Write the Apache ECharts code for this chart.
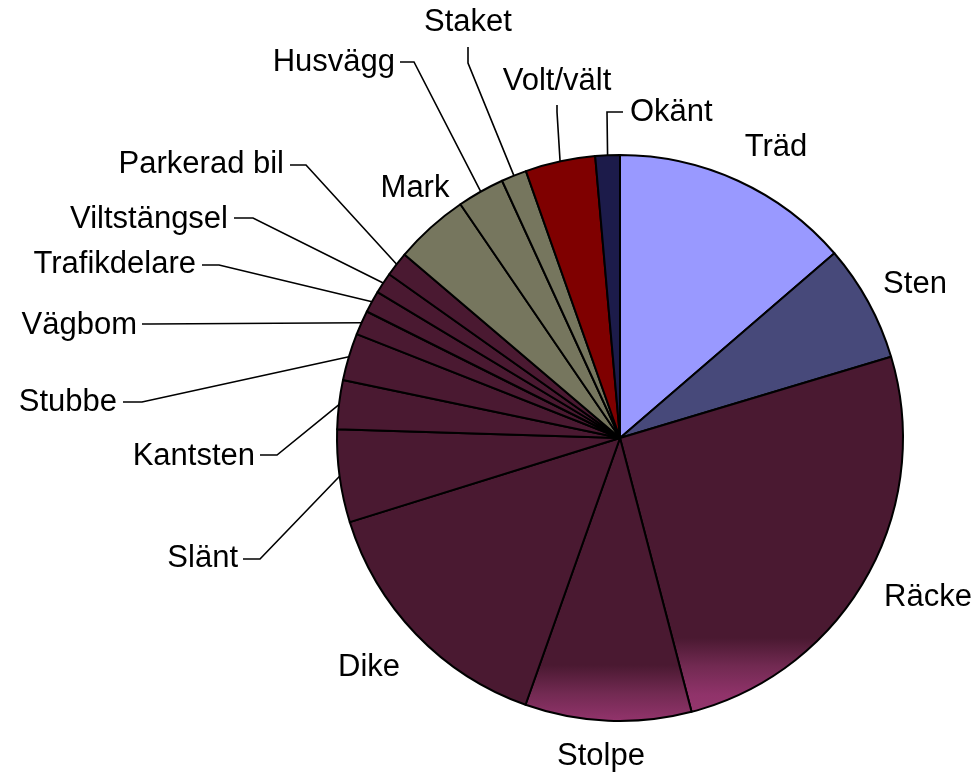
<!DOCTYPE html>
<html>
<head>
<meta charset="utf-8">
<title>Singelolyckor – påkörda objekt</title>
<script src="https://cdn.jsdelivr.net/npm/echarts@6/dist/echarts.min.js"></script>
<style>
  html, body { margin: 0; padding: 0; background: #ffffff; }
  #chart { width: 978px; height: 778px; }
</style>
</head>
<body>
<div id="chart"></div>
<script>
// Object types, clockwise from twelve o'clock
const categories = ['Träd', 'Sten', 'Räcke', 'Stolpe', 'Dike', 'Slänt', 'Kantsten', 'Stubbe',
  'Vägbom', 'Trafikdelare', 'Viltstängsel', 'Parkerad bil', 'Mark', 'Husvägg', 'Staket',
  'Volt/vält', 'Okänt'];
// Share of accidents per object type (%)
const shares = [13.7, 6.7, 25.6, 9.5, 14.8, 5.3, 2.8, 2.7, 1.4, 1.25, 1.2, 1.4, 4.25, 2.7, 1.45, 4.0, 1.4];

// ---- styling ----
const MAROON = '#4a1931';
const OLIVE = '#76765e';
const fadeToPink = (darkEnd, midAt, pinkStart) => ({
  type: 'linear', x: 0, y: 0, x2: 0, y2: 1,
  colorStops: [
    { offset: 0, color: MAROON },
    { offset: darkEnd, color: MAROON },
    { offset: midAt, color: '#722a52' },
    { offset: pinkStart, color: '#90336a' },
    { offset: 1, color: '#95366d' }
  ]
});
const sliceFill = {
  'Träd': '#9999ff',
  'Sten': '#47497a',
  'Räcke': fadeToPink(0.79, 0.87, 0.95),
  'Stolpe': fadeToPink(0.8, 0.9, 0.99),
  'Mark': OLIVE, 'Husvägg': OLIVE, 'Staket': OLIVE,
  'Volt/vält': '#7f0000',
  'Okänt': '#1c1b4a'
};

// Where each label sits; "line" holds the leader's bend and end point
const labelSpots = {
  'Träd':         { x: 776, y: 147, align: 'center' },
  'Sten':         { x: 915, y: 284, align: 'center' },
  'Räcke':        { x: 928, y: 597, align: 'center' },
  'Stolpe':       { x: 601, y: 756, align: 'center' },
  'Dike':         { x: 369, y: 667, align: 'center' },
  'Slänt':        { x: 238, y: 558, align: 'right', line: [[260, 559], [243, 559]] },
  'Kantsten':     { x: 255, y: 456, align: 'right', line: [[277, 455], [260, 455]] },
  'Stubbe':       { x: 117, y: 402, align: 'right', line: [[142, 402], [123, 402]] },
  'Vägbom':       { x: 137, y: 325, align: 'right', line: [[150, 324], [142, 324]] },
  'Trafikdelare': { x: 196, y: 264, align: 'right', line: [[219, 265], [202, 265]] },
  'Viltstängsel': { x: 228, y: 219, align: 'right', line: [[253, 218], [234, 218]] },
  'Parkerad bil': { x: 284, y: 164, align: 'right', line: [[306, 165], [290, 165]] },
  'Mark':         { x: 415, y: 188, align: 'center' },
  'Husvägg':      { x: 395, y: 62,  align: 'right', line: [[414, 62], [400, 62]] },
  'Staket':       { x: 468, y: 22,  align: 'center', line: [[468, 63], [468, 47]] },
  'Volt/vält':    { x: 557, y: 81,  align: 'center', line: [[557, 112], [557, 105]] },
  'Okänt':        { x: 630, y: 112, align: 'left', line: [[607, 112], [623, 112]] }
};

const seriesData = categories.map((name, i) => {
  const spot = labelSpots[name];
  return {
    name: name,
    value: shares[i],
    itemStyle: { color: sliceFill[name] || MAROON },
    labelLine: { show: !!spot.line }
  };
});

const chart = echarts.init(document.getElementById('chart'), null, { renderer: 'canvas' });
chart.setOption({
  animation: false,
  backgroundColor: '#ffffff',
  series: [{
    type: 'pie',
    center: [620, 438],
    radius: 283,
    startAngle: 90,
    clockwise: true,
    avoidLabelOverlap: false,
    data: seriesData,
    itemStyle: { borderColor: '#000000', borderWidth: 2 },
    emphasis: { disabled: true },
    label: {
      show: true,
      position: 'outside',
      formatter: '{b}',
      color: '#000000',
      fontFamily: '"Liberation Sans", Arial, sans-serif',
      fontSize: 31
    },
    labelLine: {
      show: true,
      length: 20,
      length2: 20,
      lineStyle: { color: '#000000', width: 1.6 }
    },
    labelLayout: function (params) {
      const spot = labelSpots[categories[params.dataIndex]];
      const out = { x: spot.x, y: spot.y, align: spot.align, verticalAlign: 'middle' };
      if (spot.line && params.labelLinePoints && params.labelLinePoints.length) {
        out.labelLinePoints = [params.labelLinePoints[0]].concat(spot.line);
      }
      return out;
    }
  }]
});
</script>
</body>
</html>
